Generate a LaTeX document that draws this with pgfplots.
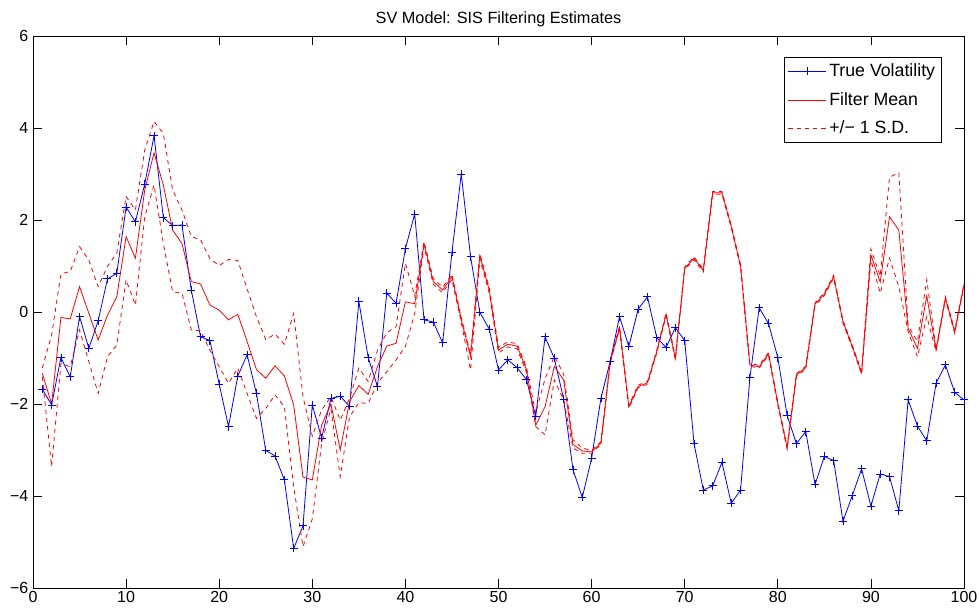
\documentclass[border=0pt]{standalone}
\usepackage{pgfplots}
\pgfplotsset{compat=1.18}
\usepackage{fontspec}
\setmainfont{Liberation Sans}

% series, x = 1..100
\pgfplotstableread{
x true
1 -1.68
2 -2.02
3 -0.99
4 -1.41
5 -0.10
6 -0.79
7 -0.19
8 0.72
9 0.84
10 2.28
11 1.96
12 2.78
13 3.83
14 2.05
15 1.88
16 1.89
17 0.48
18 -0.54
19 -0.62
20 -1.57
21 -2.49
22 -1.39
23 -0.93
24 -1.77
25 -3.01
26 -3.13
27 -3.65
28 -5.14
29 -4.65
30 -2.02
31 -2.74
32 -1.88
33 -1.83
34 -2.05
35 0.23
36 -0.99
37 -1.62
38 0.41
39 0.19
40 1.38
41 2.13
42 -0.17
43 -0.22
44 -0.67
45 1.30
46 3.00
47 1.20
48 -0.01
49 -0.37
50 -1.26
51 -1.04
52 -1.21
53 -1.47
54 -2.27
55 -0.54
56 -1.01
57 -1.90
58 -3.43
59 -4.03
60 -3.18
61 -1.88
62 -1.07
63 -0.10
64 -0.75
65 0.06
66 0.33
67 -0.56
68 -0.77
69 -0.34
70 -0.62
71 -2.86
72 -3.87
73 -3.78
74 -3.27
75 -4.16
76 -3.87
77 -1.43
78 0.09
79 -0.25
80 -0.99
81 -2.25
82 -2.86
83 -2.60
84 -3.75
85 -3.14
86 -3.23
87 -4.55
88 -3.99
89 -3.41
90 -4.22
91 -3.52
92 -3.58
93 -4.32
94 -1.91
95 -2.48
96 -2.80
97 -1.55
98 -1.15
99 -1.75
100 -1.91
}\truevol

\pgfplotstableread{
x mean upper lower
1 -1.33 -1.22 -1.41
2 -2.00 -0.50 -3.36
3 -0.12 0.83 -1.12
4 -0.15 0.88 -1.19
5 0.55 1.42 -0.39
6 -0.03 1.13 -1.08
7 -0.61 0.55 -1.77
8 -0.07 0.99 -0.97
9 0.33 1.28 -0.72
10 1.64 2.51 0.70
11 1.17 2.22 0.15
12 2.65 3.52 2.07
13 3.46 4.14 2.76
14 2.76 3.88 1.49
15 1.78 2.65 0.44
16 1.49 2.22 0.41
17 0.66 1.64 -0.39
18 0.61 1.57 -0.41
19 0.15 1.16 -0.83
20 0.04 1.01 -1.19
21 -0.17 1.14 -1.55
22 -0.05 1.12 -1.22
23 -0.64 0.50 -1.77
24 -1.25 -0.10 -2.31
25 -1.44 -0.60 -2.10
26 -1.17 -0.48 -1.80
27 -1.39 -0.70 -2.06
28 -2.02 -0.03 -3.80
29 -3.59 -1.84 -5.10
30 -3.65 -2.70 -4.50
31 -2.46 -2.13 -2.86
32 -2.00 -1.84 -2.10
33 -3.00 -2.35 -3.58
34 -1.95 -1.88 -2.28
35 -1.60 -1.22 -1.97
36 -1.79 -1.51 -1.99
37 -1.19 -0.83 -1.55
38 -0.74 -0.45 -1.30
39 -0.68 -0.32 -1.04
40 0.22 1.06 -0.75
41 0.18 0.35 -0.03
42 1.48 1.53 1.42
43 0.66 0.72 0.60
44 0.48 0.54 0.42
45 0.77 0.82 0.71
46 -0.17 -0.12 -0.23
47 -0.97 -0.90 -1.26
48 1.22 1.27 1.15
49 0.48 0.54 0.42
50 -0.83 -0.77 -0.89
51 -0.70 -0.65 -0.76
52 -0.74 -0.69 -0.80
53 -1.25 -1.20 -1.31
54 -2.46 -2.20 -2.49
55 -2.06 -1.45 -2.67
56 -1.18 -0.96 -1.48
57 -1.48 -1.35 -1.91
58 -2.88 -2.78 -2.96
59 -3.02 -2.96 -3.07
60 -3.04 -3.01 -3.07
61 -2.85 -2.82 -2.88
62 -1.08 -1.05 -1.11
63 -0.34 -0.31 -0.37
64 -2.06 -2.03 -2.09
65 -1.62 -1.59 -1.65
66 -1.54 -1.51 -1.57
67 -0.86 -0.83 -0.89
68 -0.05 -0.02 -0.08
69 -1.01 -0.98 -1.04
70 0.95 0.98 0.92
71 1.17 1.20 1.14
72 0.90 0.93 0.87
73 2.59 2.62 2.56
74 2.59 2.62 2.56
75 1.86 1.89 1.83
76 1.00 1.03 0.97
77 -1.15 -1.12 -1.18
78 -1.19 -1.16 -1.22
79 -0.91 -0.88 -0.94
80 -1.99 -1.96 -2.02
81 -2.95 -2.92 -2.98
82 -1.37 -1.34 -1.40
83 -1.21 -1.18 -1.24
84 0.17 0.20 0.14
85 0.39 0.42 0.36
86 0.77 0.80 0.74
87 -0.21 -0.18 -0.24
88 -0.75 -0.72 -0.78
89 -1.32 -1.29 -1.35
90 1.24 1.37 1.13
91 0.65 0.78 0.41
92 2.07 2.93 1.17
93 1.78 3.03 0.55
94 -0.36 -0.30 -0.43
95 -0.79 -0.64 -0.97
96 0.35 0.70 -0.10
97 -0.83 -0.80 -0.86
98 0.30 0.33 0.27
99 -0.43 -0.40 -0.46
100 0.59 0.62 0.56
}\filt

\begin{document}
\begin{tikzpicture}
% page = 979x610 px at 0.75pt per px; axis box 931x552 px
\path[use as bounding box] (-24.75pt,-16.5pt) rectangle (709.5pt,441pt);
\begin{axis}[
    at={(0,0)}, anchor=south west,
    scale only axis,
    width=698.25pt, height=414pt,
    xmin=0, xmax=100, ymin=-6, ymax=6,
    xtick={0,10,...,100},
    xticklabels={0,10,20,30,40,50,60,70,80,90,100},
    ytick={-6,-4,...,6},
    yticklabels={−6,−4,−2,0,2,4,6},
    tick align=inside,
    xtick pos=both, ytick pos=both,
    major tick length=7pt,
    tick style={black, line width=0.5pt},
    axis line style={line width=0.6pt},
    ticklabel style={font=\fontsize{12}{14}\selectfont},
    xticklabel style={yshift=1pt},
    title={SV Model: SIS Filtering Estimates},
    title style={font=\fontsize{12.2}{14}\selectfont, yshift=-3pt},
    legend cell align=left,
    legend style={at={(1,1)}, anchor=north east, xshift=-17pt, yshift=-15.75pt,
        font=\fontsize{13.3}{15}\selectfont,
        row sep=6.3pt, inner xsep=2.5pt, inner ysep=3pt},
    legend image code/.code={
        \draw[mark repeat=2, mark phase=2, #1]
            plot coordinates {(0cm,0cm) (0.5cm,0cm) (1cm,0cm)};},
]
\addplot[blue, line width=0.6pt, mark=+, mark size=3pt, mark options={solid}] table[x=x, y=true] {\truevol};
\addplot[red, line width=0.6pt] table[x=x, y=mean] {\filt};
\addplot[red, line width=0.6pt, dash pattern=on 3.2pt off 3pt] table[x=x, y=upper] {\filt};
\addplot[red, line width=0.6pt, dash pattern=on 3.2pt off 3pt, forget plot] table[x=x, y=lower] {\filt};
\legend{True Volatility, Filter Mean, +/− 1 S.D.}
\end{axis}
\end{tikzpicture}
\end{document}
